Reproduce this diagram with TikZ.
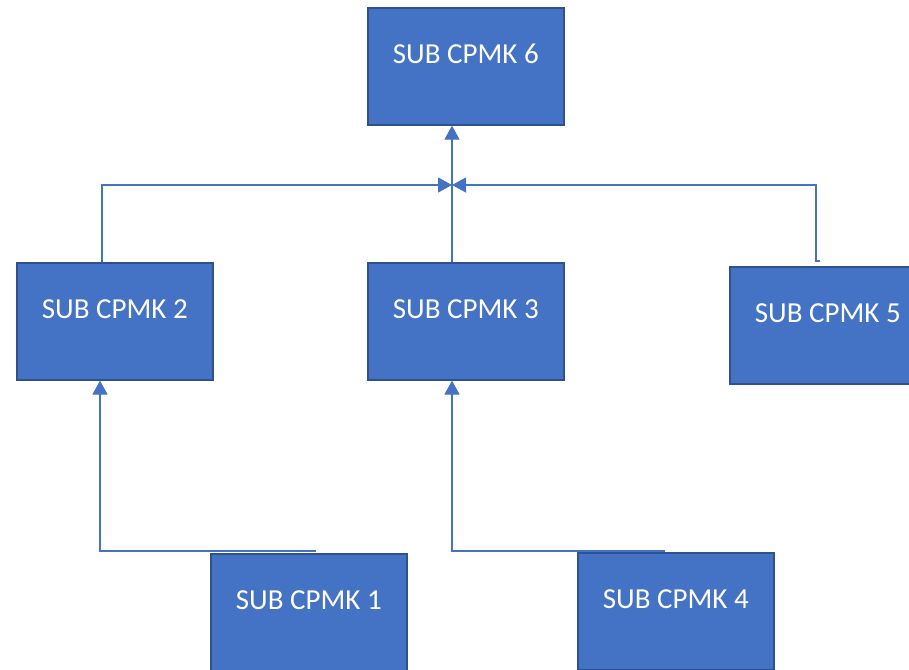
\documentclass[tikz,border=0pt]{standalone}
\usepackage{fontspec}
\setmainfont{Carlito}
\usetikzlibrary{positioning, calc, arrows.meta}
\definecolor{cpmkfill}{HTML}{4472C4}
\definecolor{cpmkedge}{HTML}{2F528F}
\tikzset{
  cpmk/.style={draw=cpmkedge, line width=1.6pt, fill=cpmkfill, text=white,
    minimum width=196pt, inner sep=0pt, text height=56pt, text depth=61pt,
    anchor=north west, font=\fontsize{29}{35}\selectfont},
  link/.style={draw=cpmkfill, line width=1.2pt},
  tip/.style={-{Triangle[width=15pt, length=14pt]}}
}

\begin{document}
\begin{tikzpicture}[x=1pt, y=-1pt]
\useasboundingbox (0,0) rectangle (909,669);
\clip (0,0) rectangle (909,669);
\node[cpmk] (c6) at (367,7) {SUB CPMK 6};
\node[cpmk] (c2) at (16,262) {SUB CPMK 2};
\node[cpmk] (c3) at (367,262) {SUB CPMK 3};
\node[cpmk] (c5) at (729,266) {SUB CPMK 5};
\node[cpmk] (c1) at (210,553) {SUB CPMK 1};
\node[cpmk] (c4) at (577,552) {SUB CPMK 4};
\coordinate (j) at (452,185);
\coordinate (a2) at (102,0);
\coordinate (a1) at (100,0);
\coordinate (h5) at (820,261);
\coordinate (t1) at (316,551);
\coordinate (t4) at (665,551);
\draw[link, tip] (c3.north -| j) -- (c6.south -| j);
\draw[link, tip] (c2.north -| a2) |- (j);
\draw[link, tip] (h5) -- ++(-4,0) |- (j);
\draw[link, tip] (t1) -| (c2.south -| a1);
\draw[link, tip] (t4) -| (c3.south -| j);
\end{tikzpicture}
\end{document}
